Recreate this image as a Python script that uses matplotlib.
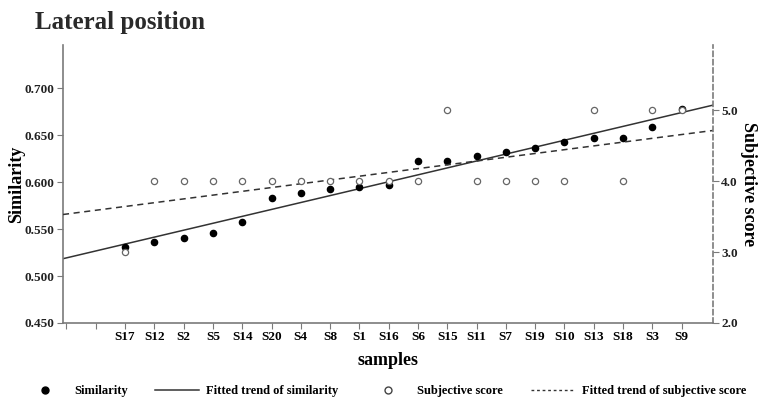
import numpy as np
import matplotlib
matplotlib.use("Agg")
import matplotlib.pyplot as plt
from matplotlib.lines import Line2D

# data
samples = ["S17", "S12", "S2", "S5", "S14", "S20", "S4", "S8", "S1", "S16",
           "S6", "S15", "S11", "S7", "S19", "S10", "S13", "S18", "S3", "S9"]
similarity = [0.531, 0.536, 0.541, 0.546, 0.557, 0.583, 0.588, 0.593, 0.595, 0.597,
              0.622, 0.622, 0.628, 0.632, 0.636, 0.643, 0.647, 0.647, 0.659, 0.678]
subjective = [3.0, 4.0, 4.0, 4.0, 4.0, 4.0, 4.0, 4.0, 4.0, 4.0,
              4.0, 5.0, 4.0, 4.0, 4.0, 4.0, 5.0, 4.0, 5.0, 5.0]

serif = "Liberation Serif"
grey = "#7a7a7a"

x = np.arange(len(samples)) + 2
xlim = (-0.12, 22.07)

fig = plt.figure(figsize=(7.69, 4.09), dpi=100)
ax = fig.add_axes([0.0819, 0.2103, 0.927 - 0.0819, 0.89 - 0.2103])
ax2 = ax.twinx()

# fitted trends (least squares over the samples)
xx = np.array(xlim)
p1 = np.polyfit(x, similarity, 1)
p2 = np.polyfit(x, subjective, 1)

ax.plot(xx, np.polyval(p1, xx), color="#333333", lw=1.1, zorder=2)
ax2.plot(xx, np.polyval(p2, xx), color="#333333", lw=1.1, ls=(0, (4, 3)), zorder=2)

ax2.scatter(x, subjective, s=20, facecolor="white", edgecolor="#666666", lw=0.9, zorder=3)
ax.scatter(x, similarity, s=20, color="black", zorder=4)

ax.set_xlim(*xlim)
ax.set_ylim(0.450, 0.746)
ax2.set_ylim(2.0, 5.92)

ax.set_xticks(np.arange(0, 22))
ax.set_xticklabels(["", ""] + samples, fontfamily=serif, fontweight="bold", fontsize=9.5)
ax.set_yticks([0.450, 0.500, 0.550, 0.600, 0.650, 0.700])
ax.set_yticklabels(["0.450", "0.500", "0.550", "0.600", "0.650", "0.700"],
                   fontfamily=serif, fontweight="bold", fontsize=9.5, color="#222222")
ax2.set_yticks([2.0, 3.0, 4.0, 5.0])
ax2.set_yticklabels(["2.0", "3.0", "4.0", "5.0"], fontfamily=serif, fontweight="bold",
                    fontsize=9.5, color="#222222")

for a in (ax, ax2):
    a.tick_params(length=4, width=0.8, color=grey, pad=2)
    for s in a.spines.values():
        s.set_visible(False)
ax.spines["left"].set_visible(True)
ax.spines["bottom"].set_visible(True)
ax.spines["left"].set_color(grey)
ax.spines["bottom"].set_color(grey)
ax.spines["left"].set_linewidth(1.2)
ax.spines["bottom"].set_linewidth(1.2)
ax2.spines["right"].set_visible(True)
ax2.spines["right"].set_color(grey)
ax2.spines["right"].set_linestyle((0, (3, 2)))
ax2.spines["right"].set_linewidth(1.2)

ax.set_xlabel("samples", fontfamily=serif, fontweight="bold", fontsize=13, labelpad=6)
ax.set_ylabel("Similarity", fontfamily=serif, fontweight="bold", fontsize=13, labelpad=0)
ax2.set_ylabel("Subjective score", fontfamily=serif, fontweight="bold", fontsize=13,
               rotation=270, labelpad=14)

fig.text(0.045, 0.945, "Lateral position", fontfamily=serif, fontweight="bold",
         fontsize=18, color="#2a2a2a", va="center")

handles = [
    Line2D([], [], ls="none", marker="o", color="black", markersize=5),
    Line2D([], [], color="#333333", lw=1.1),
    Line2D([], [], ls="none", marker="o", markerfacecolor="white",
           markeredgecolor="#444444", markersize=5),
    Line2D([], [], color="#333333", lw=1.0, ls=(0, (2, 2))),
]
labels = ["Similarity", "Fitted trend of similarity", "Subjective score",
          "Fitted trend of subjective score"]
fig.legend(handles, labels, loc="center", bbox_to_anchor=(0.5, 0.044), ncol=4,
           frameon=False, prop={"family": serif, "weight": "bold", "size": 9},
           handlelength=3.5, columnspacing=2.2, handletextpad=0.6)

fig.savefig("out.png", dpi=100)
